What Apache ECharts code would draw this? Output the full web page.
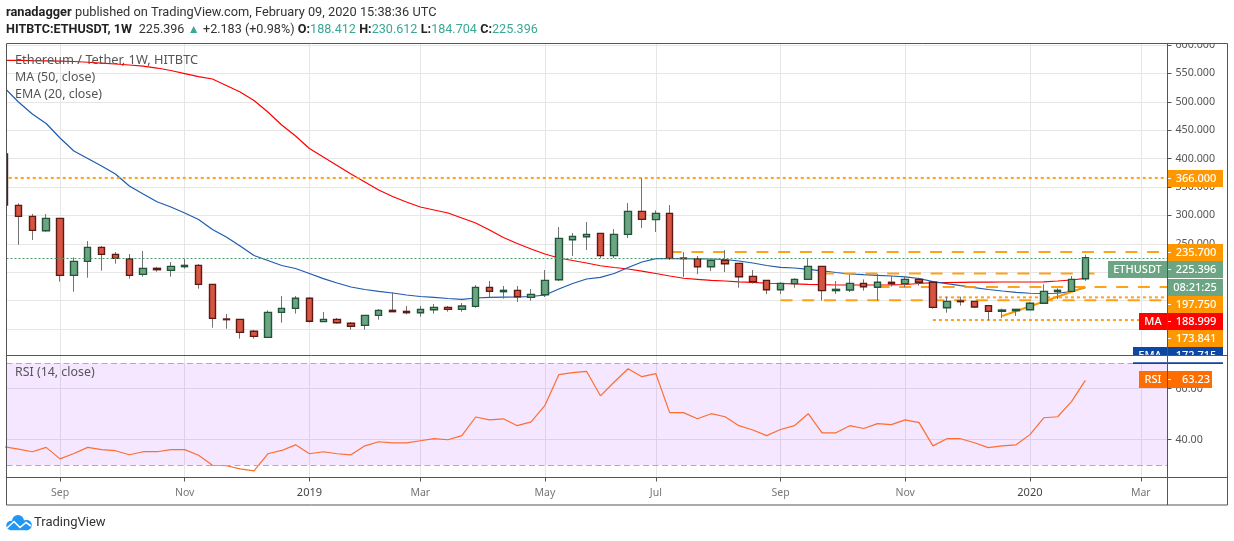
<!DOCTYPE html>
<html><head><meta charset="utf-8">
<style>html,body{margin:0;padding:0;background:#fff}#c{width:1234px;height:541px}</style>
<script src="https://cdn.jsdelivr.net/npm/echarts@6/dist/echarts.min.js"></script>
</head><body><div id="c"></div>
<script>
const weeks = ['2018-08-06','2018-08-13','2018-08-20','2018-08-27','2018-09-03','2018-09-10','2018-09-17','2018-09-24','2018-10-01','2018-10-08','2018-10-15','2018-10-22','2018-10-29','2018-11-05','2018-11-12','2018-11-19','2018-11-26','2018-12-03','2018-12-10','2018-12-17','2018-12-24','2018-12-31','2019-01-07','2019-01-14','2019-01-21','2019-01-28','2019-02-04','2019-02-11','2019-02-18','2019-02-25','2019-03-04','2019-03-11','2019-03-18','2019-03-25','2019-04-01','2019-04-08','2019-04-15','2019-04-22','2019-04-29','2019-05-06','2019-05-13','2019-05-20','2019-05-27','2019-06-03','2019-06-10','2019-06-17','2019-06-24','2019-07-01','2019-07-08','2019-07-15','2019-07-22','2019-07-29','2019-08-05','2019-08-12','2019-08-19','2019-08-26','2019-09-02','2019-09-09','2019-09-16','2019-09-23','2019-09-30','2019-10-07','2019-10-14','2019-10-21','2019-10-28','2019-11-04','2019-11-11','2019-11-18','2019-11-25','2019-12-02','2019-12-09','2019-12-16','2019-12-23','2019-12-30','2020-01-06','2020-01-13','2020-01-20','2020-01-27','2020-02-03'];
const opens = [408.1,317.7,298.3,273.1,294.8,194.4,219.1,243.7,231.4,223.8,196.2,206.8,203.2,209.7,212,178.6,117.6,117,95.9,85.3,129.3,136.3,154,112.9,117,110,106.4,124,132.8,131,128.7,134,138.1,134.6,139.9,173.3,165.7,168,155.7,160.4,186.8,257.2,262.5,268.4,229.1,266.6,307.1,292.5,303.6,224.9,223.8,209.7,220.9,215.6,192.7,185.6,169.2,179.8,187.4,210.3,167.5,168.7,180.4,173.4,182.2,179.8,187.4,182.2,137.5,149.3,148.7,141.1,131.1,132.3,134,145.2,165.7,166.3,188.412];
const closes = [318.3,298.3,273.7,294.8,194.4,219.1,243.7,231.4,224.4,194.4,206.8,204.4,210.3,212,178.6,118.7,116.4,94.1,87,129.3,136.3,154,113.5,117,111.1,104.7,124,132.8,130.5,128.7,134.6,138.1,134.6,140.4,173.3,166.3,168,156.9,161,185.6,259.6,263.1,266.6,229.1,266.6,307.1,293,303.6,224.4,224,209.7,220.9,215,192.1,183.3,169.2,180.3,187.4,210.3,167.5,169.8,180.4,174.5,182.2,179.8,187.4,182.2,138.1,148.7,148.1,138.7,131.1,133.4,134.6,145.2,166.3,168.1,187.4,225.396];
const lows = [318.3,248.4,256.7,271.3,183.3,165.7,190.3,202.7,215,188.6,192.1,200.9,192.1,206.2,171,102.3,100.5,83,83,85.3,111.1,127,111.1,112.9,109.3,98.8,98.8,116.4,130.5,125.8,121.7,126.9,130.5,130.5,137.5,154.5,153.4,147.5,149.8,156.3,184.5,228.5,239,225,225,260.2,277.8,270.7,221.4,191.5,196.8,202.1,200.3,172.7,179.8,161.6,161.6,172.7,187.4,149.9,161.6,165.1,167.5,149.9,174.5,173.4,176.3,135.8,128.7,141.1,137,115.3,119.4,122.9,134,145.2,152.8,166.3,184.704];
const highs = [408.1,321.2,302.4,302.4,294.8,226.1,254.9,246.1,235.5,232,237.3,209.1,217.9,223.8,214.4,178.6,126.4,117,98.2,132.8,158,158,155.7,129.9,119.3,112.3,124,135.1,164.5,140.5,140.5,144,140.4,145.7,177.4,184.5,175.7,175.7,170.4,203.8,279.5,269,288.3,268.4,276,321.8,365.8,308.9,318.3,235.5,228.5,222.6,239,215.6,203.8,185.6,182.1,189.2,223.2,210.3,184.5,195.1,187.4,196.8,193.3,193.3,190.4,183.3,156.9,156.9,148.7,141.1,135.8,134.6,147.5,178.6,171.6,193.3,230.612];
const ma50 = [573.1,572.9,572.5,572.2,571.8,571,569.7,568.3,566.6,564.8,563,559.5,555.1,549.8,544.5,540.2,528.7,517.3,502.3,482,459.2,439.8,417.8,402.8,387.9,372.9,358.8,344.7,333.3,323.6,314.8,309.5,304.2,295.4,286.6,274.3,261.1,250.5,240.8,232,225,220.6,216.2,211.4,208.3,205.6,201.8,197.7,193.3,189.3,187.5,185.7,184.5,183.1,182.2,180.5,180.1,179.6,178.7,178,177.5,177.5,177.5,177.5,177.8,178.3,180.1,181.5,181.9,182.2,182.4,182.6,182.7,182.7,182.7,183.1,184.5,186.3,188.999];
const ema20 = [524.3,499.7,478.5,461.8,436.3,413.4,400.2,387,372.9,351.8,337.7,324.1,314.8,304.2,292.8,275.2,262,246.1,229.4,220.6,211.8,206.5,197.7,188.6,181,173.9,169.5,166.4,163.4,159.9,157.2,155.5,153.7,152.3,154.6,155.8,156,156.3,157.2,159.9,170.4,180.1,188,191,197.7,208.3,218,223.8,224.1,223.8,223.6,223.2,222.4,219.7,216.2,211.8,208.6,207.4,205.1,202.5,199.5,196.8,195.6,194.5,193.3,191.6,188.9,183.3,179.8,176.2,172.7,169.5,166.9,164.6,162.9,162.5,162.9,166,172.715];
const rsi14 = [37.2,36.3,35.3,37,32.5,34.6,37,36.1,35.7,34.1,35.3,35.3,36.1,36.1,33.9,30,29.8,28.6,27.8,34.5,35.8,38,34.5,35.3,34.5,34.1,37.6,39.2,38.8,38.8,39.6,40.4,40,41.6,48.9,47.8,48.2,45.5,47,53.5,65.5,66.3,66.8,57.2,62.6,67.8,64.7,65.9,50.6,50.6,48.2,50.2,49,45.5,43.8,41.6,44,45.5,50.2,42.7,42.7,45.5,44.4,46.3,45.9,47.8,46.7,37.6,40.4,40.4,38.8,36.9,37.6,38,42,48.6,49,54.9,63.23];
const timeTickDates = ['2018-09-03','2018-11-05','2019-01-07','2019-03-04','2019-05-06','2019-07-01','2019-09-02','2019-11-04','2020-01-06','2020-03-02'];
const timeTickLabels = ['Sep','Nov','2019','Mar','May','Jul','Sep','Nov','2020','Mar'];
const priceTicks = [100,150,200,250,300,350,400,450,500,550,600];
const rsiTicks = [40,60];
const lastPrice = 225.396;
const levelValues = [366,235.7,197.75,173.841,155.7,150.5,115.8];
const levelFrom = ['2018-07-30','2019-07-08','2019-09-23','2019-10-21','2019-11-18','2019-09-02','2019-11-18'];
const levelTo = ['2020-03-30','2020-03-30','2020-02-10','2020-03-30','2020-03-30','2020-03-30','2020-03-30'];
const levelDotted = [true,false,false,false,true,false,true];
const trendDates = ['2019-12-23','2020-02-03'];
const trendValues = [122.9,173.841];

const ts = d => new Date(d + 'T00:00:00Z').getTime();
const WEEK = 7 * 864e5;
const xMin = ts(weeks[0]) + 0.137 * WEEK, xMax = ts(weeks[0]) + 83.93 * WEEK;
const tickStamps = timeTickDates.map(ts);
const chart = echarts.init(document.getElementById('c'), null, {renderer: 'canvas'});
const FONT = '"Noto Sans", "Open Sans", sans-serif';
const HFONT = 'Roboto, "Noto Sans", sans-serif';
const GRID = '#e6e6e6', AX = '#555555';
const ORANGE = '#ff9800';

const wickData = weeks.map((d, i) => [ts(d), opens[i], closes[i], lows[i], highs[i]]);
const bodyData = weeks.map((d, i) => [ts(d), opens[i], closes[i], Math.min(opens[i], closes[i]), Math.max(opens[i], closes[i])]);
const lineOf = arr => weeks.map((d, i) => [ts(d), arr[i]]);

const levelSeries = levelValues.map((v, i) => ({
  type: 'line', xAxisIndex: 0, yAxisIndex: 0, z: 3, showSymbol: false, silent: true,
  data: [[ts(levelFrom[i]), v], [ts(levelTo[i]), v]],
  lineStyle: {color: ORANGE, width: 2, opacity: 0.9, type: levelDotted[i] ? [3, 3] : [12, 9.7]}
}));

const tag = (x, y, w, h, fill, text, tick) => {
  const out = [{type: 'rect', z: 100, shape: {x, y, width: w, height: h}, style: {fill}},
    {type: 'text', z: 101, style: {x: tick ? x + 29 : x + w / 2, y: y + h / 2 + 0.5, text, fill: '#fff', font: '500 11px ' + FONT, align: 'center', verticalAlign: 'middle'}}];
  if (tick) out.push({type: 'line', z: 101, shape: {x1: x, y1: y + h / 2, x2: x + 4, y2: y + h / 2}, style: {stroke: '#fff', lineWidth: 1}});
  return out;
};
const plain = (x, y, text, font, fill) => ({type: 'text', z: 50, style: {x, y, text, font, fill, verticalAlign: 'middle'}});

const logo = [
  {type: 'circle', z: 60, shape: {cx: 11, cy: 525.5, r: 4.7}, style: {fill: '#2196f3'}},
  {type: 'circle', z: 60, shape: {cx: 18, cy: 521, r: 6}, style: {fill: '#2196f3'}},
  {type: 'circle', z: 60, shape: {cx: 26.5, cy: 525, r: 5.3}, style: {fill: '#2196f3'}},
  {type: 'rect', z: 60, shape: {x: 11, y: 524, width: 16, height: 6.2}, style: {fill: '#2196f3'}},
  {type: 'polyline', z: 61, shape: {points: [[7, 528], [14, 521.5], [20, 527.5], [26, 522.5], [31, 526]]}, style: {stroke: '#fff', fill: null, lineWidth: 1.6}}
];

chart.setOption({
  animation: false,
  backgroundColor: '#fff',
  grid: [
    {left: 6.5, top: 43.5, width: 1161, height: 311.5},
    {left: 6.5, top: 355.5, width: 1161, height: 122}
  ],
  xAxis: [0, 1].map(g => ({
    type: 'value', gridIndex: g, min: xMin, max: xMax, scale: true,
    axisLine: {show: g === 1, lineStyle: {color: AX, width: 1}},
    axisTick: {show: g === 1, length: 4, lineStyle: {color: AX}, customValues: tickStamps},
    axisLabel: g === 1 ? {
      show: true, customValues: tickStamps, margin: 10, fontFamily: FONT, fontSize: 10.5, color: '#777',
      formatter: v => {
        const l = timeTickLabels[tickStamps.indexOf(+v)];
        return /^\d/.test(l) ? '{y|' + l + '}' : l;
      },
      rich: {y: {color: '#444', fontSize: 11, fontFamily: FONT}}
    } : {show: false, customValues: tickStamps},
    splitLine: {show: true, lineStyle: {color: GRID, width: 1}}
  })),
  yAxis: [
    {type: 'value', gridIndex: 0, position: 'right', min: 54.2, max: 602.7, scale: true,
      axisLine: {show: true, lineStyle: {color: AX}},
      axisTick: {show: true, length: 4, lineStyle: {color: AX}, customValues: priceTicks},
      axisLabel: {customValues: priceTicks, margin: 8, fontFamily: FONT, fontSize: 10.7, color: '#555', formatter: v => v.toFixed(3)},
      splitLine: {show: true, lineStyle: {color: GRID, width: 1}}},
    {type: 'value', gridIndex: 1, position: 'right', min: 25.2, max: 73, scale: true,
      axisLine: {show: true, lineStyle: {color: AX}},
      axisTick: {show: true, length: 4, lineStyle: {color: AX}, customValues: rsiTicks},
      axisLabel: {customValues: rsiTicks, margin: 8, fontFamily: FONT, fontSize: 10.7, color: '#555', formatter: v => v.toFixed(2)},
      splitLine: {show: true, lineStyle: {color: GRID, width: 1}}}
  ],
  series: [
    {name: 'MA', type: 'line', xAxisIndex: 0, yAxisIndex: 0, z: 2, showSymbol: false, silent: true, data: lineOf(ma50), lineStyle: {color: '#ff0000', width: 1.2}},
    {name: 'EMA', type: 'line', xAxisIndex: 0, yAxisIndex: 0, z: 2, showSymbol: false, silent: true, data: lineOf(ema20), lineStyle: {color: '#1f5bb0', width: 1.2}},
    ...levelSeries,
    {name: 'Trend', type: 'line', xAxisIndex: 0, yAxisIndex: 0, z: 3, showSymbol: false, silent: true,
      data: trendDates.map((d, i) => [ts(d), trendValues[i]]), lineStyle: {color: ORANGE, width: 2}},
    {name: 'Wicks', type: 'candlestick', xAxisIndex: 0, yAxisIndex: 0, z: 4, barWidth: 1, silent: true, data: wickData,
      itemStyle: {color: '#737375', color0: '#737375', borderColor: '#737375', borderColor0: '#737375', borderColorDoji: '#737375', borderWidth: 1}},
    {name: 'ETHUSDT', type: 'candlestick', xAxisIndex: 0, yAxisIndex: 0, z: 5, barWidth: 7, silent: true, data: bodyData,
      itemStyle: {color: '#6ba583', color0: '#d75442', borderColor: '#225437', borderColor0: '#5b1a13', borderColorDoji: '#5b1a13', borderWidth: 1.4},
      markLine: {silent: true, symbol: 'none', animation: false, z: 6, label: {show: false},
        lineStyle: {color: '#4f9a72', width: 1, type: [2, 2]}, data: [{yAxis: lastPrice}]}},
    {name: 'RSI', type: 'line', xAxisIndex: 1, yAxisIndex: 1, z: 3, showSymbol: false, silent: true, data: lineOf(rsi14),
      lineStyle: {color: '#ff6d2e', width: 1.2},
      markArea: {silent: true, animation: false, itemStyle: {color: 'rgba(153,21,255,0.1)'}, data: [[{yAxis: 30}, {yAxis: 70}]]},
      markLine: {silent: true, symbol: 'none', animation: false, label: {show: false},
        lineStyle: {color: '#b4a8bc', width: 1, type: [6, 3.5]}, data: [{yAxis: 70}, {yAxis: 30}]}}
  ],
  graphic: {elements: [
    {type: 'rect', z: 105, shape: {x: 0, y: 44, width: 6, height: 311}, style: {fill: '#fff'}},
    {type: 'text', z: 50, style: {x: 6, y: 13, verticalAlign: 'middle',
      text: '{b|ranadagger} {n|published on TradingView.com, February 09, 2020 15:38:36 UTC}',
      rich: {b: {font: '700 12.8px ' + HFONT, fill: '#222'}, n: {font: '12.8px ' + HFONT, fill: '#333'}}}},
    {type: 'text', z: 50, style: {x: 6, y: 30, verticalAlign: 'middle',
      text: '{b|HITBTC:ETHUSDT, 1W}  {n|225.396} {a|▲} {n|+2.183 (+0.98%)} {b|O:}{t|188.412} {b|H:}{t|230.612} {b|L:}{t|184.704} {b|C:}{t|225.396}',
      rich: {b: {font: '700 12.6px ' + HFONT, fill: '#222'}, n: {font: '12.6px ' + HFONT, fill: '#333'}, t: {font: '12.6px ' + HFONT, fill: '#3aa896'}, a: {font: '12px ' + FONT, fill: '#3aa896'}}}},
    plain(15, 60.5, 'Ethereum / Tether, 1W, HITBTC', '12.8px ' + FONT, '#555'),
    plain(15, 77.5, 'MA (50, close)', '12.4px ' + FONT, '#555'),
    plain(15, 94.5, 'EMA (20, close)', '12.4px ' + FONT, '#555'),
    plain(15, 372.5, 'RSI (14, close)', '12.4px ' + FONT, '#555'),
    {type: 'text', z: 60, style: {x: 34, y: 523, text: 'TradingView', font: '13px ' + HFONT, fill: '#333', verticalAlign: 'middle'}},
    ...logo,
    ...tag(1167, 170, 56, 17, ORANGE, '366.000', true),
    ...tag(1167, 244, 56, 17, ORANGE, '235.700', true),
    ...tag(1167, 261, 56, 17, '#6ba583', '225.396', true),
    ...tag(1108, 261, 59, 17, '#6ba583', 'ETHUSDT'),
    ...tag(1167, 279, 56, 17, '#6ba583', '08:21:25'),
    ...tag(1167, 296, 56, 17, ORANGE, '197.750', true),
    ...tag(1167, 313, 56, 17, '#ff0000', '188.999', true),
    ...tag(1139, 313, 28, 17, '#ff0000', 'MA'),
    ...tag(1167, 330, 56, 17, ORANGE, '173.841', true),
    ...tag(1167, 347, 56, 17, '#0d47a1', '172.715', true),
    ...tag(1133, 347, 34, 17, '#0d47a1', 'EMA'),
    {type: 'rect', z: 102, shape: {x: 1133, y: 356, width: 94, height: 6.3}, style: {fill: '#fff'}},
    {type: 'rect', z: 102, shape: {x: 1168, y: 30, width: 60, height: 13.5}, style: {fill: '#fff'}},
    ...tag(1167, 371, 45, 17, '#ff6d00', '63.23', true),
    ...tag(1139, 371, 28, 17, '#ff6d00', 'RSI'),
    {type: 'rect', z: 110, shape: {x: 6.5, y: 43.5, width: 1221, height: 461.5}, style: {fill: null, stroke: AX, lineWidth: 1}},
    {type: 'line', z: 110, shape: {x1: 1167.5, y1: 43.5, x2: 1167.5, y2: 505}, style: {stroke: AX, lineWidth: 1}},
    {type: 'line', z: 110, shape: {x1: 6.5, y1: 355.5, x2: 1227.5, y2: 355.5}, style: {stroke: AX, lineWidth: 1}},
    {type: 'line', z: 110, shape: {x1: 6.5, y1: 477.5, x2: 1227.5, y2: 477.5}, style: {stroke: AX, lineWidth: 1}}
  ]}
});
</script></body></html>
